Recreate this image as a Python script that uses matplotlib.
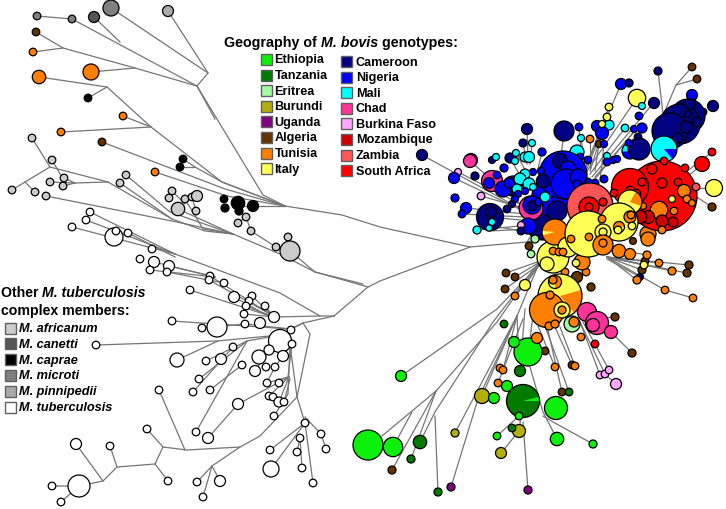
#!/usr/bin/env python3

import matplotlib
matplotlib.use('Agg')
import matplotlib.pyplot as plt
from matplotlib.patches import Circle, Wedge, Rectangle

plt.rcParams['font.family'] = ['Liberation Sans', 'DejaVu Sans']

COLORS = {
    'Ethiopia': '#0cf00c', 'Tanzania': '#007a00', 'Eritrea': '#a4fba4',
    'Burundi': '#b5ad0a', 'Uganda': '#800080', 'Algeria': '#663300',
    'Tunisia': '#ff8000', 'Italy': '#ffff55', 'Cameroon': '#000080',
    'Nigeria': '#0000ff', 'Mali': '#00ffff', 'Chad': '#ff3399',
    'Burkina Faso': '#ffa6ff', 'Mozambique': '#cc0000', 'Zambia': '#ff5555',
    'South Africa': '#ff0000', 'M. africanum': '#cccccc', 'M. canetti': '#555555',
    'M. caprae': '#000000', 'M. microti': '#808080', 'M. pinnipedii': '#aaaaaa',
    'M. tuberculosis': '#ffffff',
}

geo_left = ['Ethiopia', 'Tanzania', 'Eritrea', 'Burundi', 'Uganda', 'Algeria', 'Tunisia', 'Italy']
geo_right = ['Cameroon', 'Nigeria', 'Mali', 'Chad', 'Burkina Faso', 'Mozambique', 'Zambia', 'South Africa']
other_members = ['M. africanum', 'M. canetti', 'M. caprae', 'M. microti', 'M. pinnipedii', 'M. tuberculosis']

# branches, picture coordinates
branches_top = [
    [(285, 207), (263, 196), (197, 87), (135, 69), (63, 49), (36, 33)],
    [(63, 49), (33, 53)], [(135, 69), (91, 73)],
    [(215, 120), (197, 87), (72, 20), (37, 17)], [(120, 43), (94, 18)],
    [(197, 87), (208, 74), (111, 9)], [(208, 74), (168, 12)],
    [(285, 207), (222, 183), (151, 128), (107, 88), (39, 78)], [(107, 88), (88, 99)],
    [(151, 128), (123, 117)], [(151, 128), (61, 133)],
    [(285, 207), (240, 190), (222, 183), (195, 168), (183, 160)], [(195, 168), (180, 168)],
    [(285, 207), (225, 190), (102, 143)], [(285, 207), (227, 197), (155, 173)],
    [(285, 207), (239, 207)],
    [(285, 207), (342, 216), (380, 228), (470, 248), (527, 243), (540, 240)],
    [(470, 248), (380, 282), (368, 288), (334, 317)],
    [(368, 288), (340, 280), (315, 273), (290, 252)], [(315, 273), (363, 285)],
    [(315, 273), (280, 255), (233, 235), (205, 232), (172, 220), (108, 183), (50, 168), (32, 139)],
    [(50, 168), (25, 183), (12, 191)], [(25, 183), (35, 193)], [(52, 161), (63, 180)],
    [(108, 183), (75, 184), (63, 187)], [(75, 184), (64, 179)], [(75, 184), (50, 183)],
    [(233, 235), (172, 222), (46, 197)], [(233, 235), (170, 213), (126, 176)],
    [(172, 220), (120, 184)], [(233, 235), (178, 210)], [(233, 235), (203, 230), (185, 200)],
    [(172, 192), (185, 205)], [(196, 212), (192, 198)], [(246, 218), (251, 232), (276, 248)],
    [(238, 224), (246, 218)], [(288, 238), (290, 252)],
]
branches_white = [
    [(334, 317), (320, 317), (280, 294), (175, 255), (90, 213)],
    [(175, 255), (86, 221)], [(175, 255), (72, 228)], [(175, 258), (128, 234)],
    [(215, 278), (154, 263)], [(215, 278), (150, 271)], [(215, 278), (169, 267)],
    [(224, 284), (167, 273)], [(270, 315), (210, 277)], [(270, 315), (209, 281)],
    [(270, 317), (190, 291)], [(270, 318), (234, 298)], [(274, 318), (252, 297)],
    [(274, 318), (246, 307)], [(274, 318), (244, 315)], [(274, 318), (265, 307)],
    [(320, 317), (274, 318)], [(334, 317), (303, 324)],
    [(303, 324), (310, 335), (297, 398), (260, 437), (240, 448), (187, 451), (163, 448),
     (155, 465), (117, 468), (103, 482), (79, 487), (52, 487)],
    [(79, 487), (61, 503)], [(103, 482), (76, 445)], [(117, 468), (110, 447)],
    [(155, 465), (168, 482)], [(163, 448), (147, 430)], [(185, 451), (159, 391)],
    [(240, 448), (212, 467), (197, 483)], [(212, 467), (203, 498)], [(212, 467), (220, 482)],
    [(297, 398), (305, 424)], [(305, 418), (321, 435), (326, 450)], [(305, 424), (270, 451)],
    [(305, 424), (271, 470)], [(305, 424), (313, 484)], [(300, 439), (302, 469)],
    [(300, 439), (297, 453)],
    [(303, 324), (290, 330), (172, 322)], [(290, 330), (245, 325), (202, 329)],
    [(303, 324), (280, 336), (217, 342), (96, 346)], [(218, 342), (177, 361)],
    [(280, 336), (247, 342), (206, 362)], [(247, 342), (199, 380)], [(247, 342), (196, 433)],
    [(233, 348), (193, 393)], [(242, 366), (210, 391)],
    [(289, 378), (238, 405), (208, 439)], [(290, 345), (288, 395), (274, 417)],
    [(292, 345), (288, 378), (267, 384)], [(289, 378), (279, 403)], [(290, 380), (284, 403)],
    [(289, 378), (269, 397)], [(280, 342), (269, 351), (255, 372)], [(283, 357), (275, 368), (266, 385)],
    [(297, 398), (290, 345)],
]
branches_right = [
    # left fan of the Nigeria group
    [(530, 215), (422, 156)], [(530, 215), (454, 179)], [(520, 205), (470, 162)],
    [(520, 205), (458, 173)], [(520, 208), (481, 197)], [(525, 215), (466, 209)],
    [(525, 218), (462, 215)], [(530, 222), (490, 218)], [(530, 226), (477, 231)],
    [(530, 230), (490, 232)], [(530, 234), (490, 226)], [(527, 243), (540, 222)],
    [(527, 130), (528, 160)], [(523, 144), (527, 165)], [(532, 144), (530, 165)],
    [(542, 153), (538, 170)], [(516, 154), (530, 180)], [(510, 159), (525, 185)],
    [(564, 132), (561, 158)],
    # top fan
    [(585, 175), (637, 99)], [(585, 170), (621, 85)], [(585, 170), (609, 108)],
    [(585, 175), (607, 118)], [(590, 175), (625, 129)], [(582, 165), (579, 128)],
    [(585, 168), (581, 139)], [(590, 170), (590, 140)], [(595, 172), (599, 145)],
    [(592, 178), (650, 108)], [(595, 180), (640, 125)], [(595, 178), (635, 132)],
    [(600, 182), (604, 145)], [(590, 172), (602, 134)],
    [(663, 115), (658, 72)], [(665, 112), (676, 86), (692, 68)], [(676, 86), (697, 80)],
    # right side
    [(690, 170), (712, 153)], [(685, 180), (702, 165)], [(690, 190), (714, 189)],
    [(690, 190), (696, 188)], [(692, 195), (712, 208)],
    # lower right fan
    [(607, 258), (689, 266)], [(607, 258), (687, 274)], [(607, 258), (672, 272)],
    [(607, 258), (659, 264)], [(607, 258), (665, 291), (693, 299)], [(607, 258), (637, 281)],
    [(607, 260), (640, 278)], [(607, 258), (642, 271)], [(607, 258), (644, 266)],
    [(612, 250), (647, 256)],
    # bottom fan
    [(540, 265), (520, 290), (497, 323), (436, 392), (382, 437)],
    [(412, 413), (393, 448)], [(540, 262), (493, 323), (435, 413), (420, 443)],
    [(435, 417), (438, 493)], [(436, 392), (392, 471)], [(436, 392), (411, 460)],
    [(540, 265), (497, 310), (401, 377)], [(540, 262), (517, 317), (455, 434)],
    [(517, 317), (478, 400), (451, 488)], [(517, 317), (518, 340)], [(517, 317), (482, 397)],
    [(517, 317), (503, 371)], [(523, 320), (498, 384)], [(525, 310), (520, 372)],
    [(523, 423), (528, 491)], [(530, 368), (543, 413), (557, 440)],
    [(543, 417), (553, 423), (593, 445)], [(519, 432), (501, 454)], [(519, 417), (497, 437)],
    [(523, 402), (519, 432)], [(535, 300), (530, 340)],
    [(547, 327), (562, 393)], [(545, 327), (569, 393)], [(555, 328), (572, 366)],
    [(560, 328), (575, 367)], [(538, 327), (555, 368)],
    [(580, 323), (600, 376)], [(580, 323), (605, 375)], [(583, 323), (609, 371)],
    [(605, 375), (616, 385)], [(611, 333), (632, 354)], [(595, 320), (615, 318)],
    [(540, 262), (506, 274)], [(545, 260), (515, 278)], [(540, 265), (505, 290)],
    [(540, 265), (525, 286), (515, 297)],
]

# x, y, radius per group, drawn at the back of the picture
nodes_other = {
    'M. microti': [(37, 17, 3.8), (72, 20, 3.8), (111, 9, 8)],
    'M. canetti': [(94, 18, 5.5)],
    'M. pinnipedii': [(168, 12, 5.5)],
    'M. caprae': [(88, 99, 3.8), (183, 160, 3.8), (180, 168, 3.8), (224, 200, 3.8),
                  (225, 209, 4), (238, 204, 6.7), (239, 212, 4), (253, 207, 5.5)],
    'M. africanum': [(32, 139, 3.8), (52, 161, 3.8), (12, 191, 3.8), (35, 193, 3.8),
                     (46, 197, 3.8), (50, 183, 3.8), (64, 179, 3.8), (63, 187, 3.8),
                     (126, 176, 3.8), (120, 184, 3.8), (172, 192, 3.8), (169, 199, 3.8),
                     (185, 200, 3.8), (192, 198, 3.8), (197, 197, 5.5), (178, 210, 6.7),
                     (196, 212, 3.8), (246, 218, 3.8), (238, 224, 3.8), (251, 232, 3.8),
                     (276, 248, 3.8), (288, 238, 3.8), (290, 252, 10)],
    'M. tuberculosis': [(90, 213, 3.8), (86, 221, 3.8), (72, 228, 3.8), (114, 238, 9),
                        (116, 232, 3.8), (128, 234, 3.8), (152, 250, 3.8), (140, 260, 3.8),
                        (154, 263, 5.5), (150, 271, 3.8), (169, 267, 5.5), (167, 273, 3.8),
                        (210, 277, 3.8), (209, 281, 3.8), (224, 284, 3.8), (190, 291, 3.8),
                        (234, 298, 5.5), (252, 297, 3.8), (249, 302, 3.8), (265, 307, 3.8),
                        (246, 307, 3.8), (244, 315, 3.8), (274, 318, 5.5), (172, 322, 3.8),
                        (202, 329, 3.8), (217, 328, 10), (245, 325, 3.8), (260, 324, 5.5),
                        (280, 342, 11.5), (291, 331, 3.8), (292, 345, 3.8), (96, 346, 3.8),
                        (177, 361, 7), (233, 348, 3.8), (221, 360, 5.5), (206, 362, 3.8),
                        (259, 358, 7), (269, 351, 5), (283, 357, 5.5), (242, 366, 3.8),
                        (266, 368, 3.8), (275, 368, 3.8), (255, 372, 5.5), (199, 380, 3.8),
                        (267, 384, 3.8), (279, 384, 3.8), (193, 393, 3.8), (210, 391, 3.8),
                        (159, 391, 3.8), (269, 397, 3.8), (273, 398, 3.8), (279, 403, 5),
                        (284, 403, 3.8), (238, 405, 5.5), (274, 417, 3.8), (196, 433, 3.8),
                        (208, 439, 5.5), (147, 430, 3.8), (76, 445, 5.5), (110, 447, 3.8),
                        (270, 451, 3.8), (305, 424, 3.8), (300, 439, 3.8), (297, 453, 3.8),
                        (321, 435, 3.8), (326, 450, 3.8), (271, 470, 8), (302, 469, 3.8),
                        (313, 484, 3.8), (79, 487, 11), (52, 487, 3.8), (61, 503, 3.8),
                        (168, 482, 3.8), (197, 483, 3.8), (220, 482, 5.5), (203, 498, 3.8)],
    'Algeria': [(36, 33, 3.8), (102, 143, 3.8)],
    'Tunisia': [(33, 53, 3.8), (39, 78, 6.7), (91, 73, 8), (123, 117, 3.8), (61, 133, 3.8),
                (155, 173, 3.8)],
}

# pies: x, y, radius, base group, slice group, start and end angle
pie_mali_big = (664, 150, 13, 'Mali', 'Nigeria', 0, 50)
pie_mali_small = (630, 152, 8, 'Nigeria', 'Mali', 175, 300)
pie_flag = (555, 233, 13, 'Tunisia', 'Italy', 165, 185)
pie_italy_top = (630, 203, 12, 'Italy', 'Tunisia', 300, 20)
pie_italy_inner = (619, 228, 5.5, 'Italy', 'Tunisia', 180, 360)
pie_italy_main = (560, 297, 22, 'Italy', 'Tunisia', 344, 50)
pie_italy_small = (555, 283, 6.5, 'Italy', 'Tunisia', 270, 90)
pie_tanzania = (523, 402, 16.5, 'Tanzania', 'Ethiopia', 345, 360)

# cluster nodes in drawing order, back to front
cluster_blue = [
    (458, 173, 3.5, 'Burkina Faso'), (422, 156, 5.5, 'Cameroon'), (454, 179, 5.5, 'Nigeria'),
    (471, 161, 6.5, 'Chad'), (470, 162, 6.5, 'Chad'), (475, 177, 4, 'Cameroon'),
    (481, 197, 3.8, 'Burkina Faso'), (455, 199, 4, 'Nigeria'), (466, 209, 5.5, 'Nigeria'),
    (462, 215, 3.8, 'Nigeria'), (490, 218, 13.5, 'Cameroon'), (491, 213, 5.5, 'Cameroon'),
    (492, 223, 3.5, 'Mali'), (489, 229, 3.2, 'Mali'), (477, 231, 4, 'Mali'),
    (492, 182, 10.5, 'Chad'), (489, 184, 5.5, 'Nigeria'), (497, 176, 3.8, 'Nigeria'),
    (504, 169, 4, 'Nigeria'), (492, 161, 3.5, 'Cameroon'), (496, 158, 3.5, 'Mali'),
    (510, 159, 5, 'Cameroon'), (516, 154, 3.5, 'Mali'), (515, 162, 3.5, 'Mali'),
    (527, 130, 5.5, 'Cameroon'), (523, 144, 4, 'Cameroon'), (532, 144, 3.5, 'Mali'),
    (542, 153, 4, 'Nigeria'), (525, 158, 5, 'Mali'), (529, 158, 5.5, 'Mali'),
    (564, 132, 10, 'Cameroon'), (579, 128, 3.8, 'Nigeria'), (581, 139, 3.5, 'Mali'),
    (590, 140, 3.8, 'Tunisia'), (599, 145, 3.5, 'Algeria'), (597, 127, 5.5, 'Nigeria'),
    (609, 126, 5, 'Mali'), (602, 134, 6.5, 'Nigeria'), (602, 125, 3.5, 'Italy'),
    (607, 118, 3.8, 'Italy'), (609, 108, 3.8, 'Italy'), (604, 145, 3.5, 'Nigeria'),
    (637, 99, 8.7, 'Italy'), (621, 85, 5.5, 'Nigeria'), (629, 84, 4, 'Cameroon'),
    (658, 72, 4, 'Cameroon'), (692, 68, 3.8, 'Algeria'), (697, 80, 3.8, 'Algeria'),
    (713, 107, 5.5, 'Cameroon'), (703, 113, 3.8, 'Cameroon'), (642, 107, 3.5, 'Mali'),
    (654, 104, 5.5, 'Cameroon'), (625, 129, 3.8, 'Mali'), (639, 117, 3.8, 'Nigeria'),
    (692, 96, 5.5, 'Nigeria'), (688, 117, 17, 'Cameroon'), (680, 125, 20, 'Cameroon'),
    (670, 132, 18, 'Cameroon'),
    (678, 139, 5, 'Cameroon'), (686, 128, 6, 'Cameroon'), (690, 105, 5, 'Cameroon'),
    (697, 123, 4.7, 'Cameroon'), (688, 115, 3.5, 'Cameroon'),
    pie_mali_big,
    (642, 129, 5, 'Nigeria'), (634, 130, 3.5, 'Nigeria'), (638, 138, 3.8, 'Cameroon'),
    pie_mali_small, (639, 150, 11, 'Cameroon'),
    (629, 144, 3.5, 'Nigeria'), (607, 157, 3.5, 'Mali'), (607, 163, 3.8, 'Nigeria'),
    (613, 161, 3.5, 'Nigeria'), (617, 160, 3.5, 'Nigeria'),
    (577, 153, 7, 'Mali'), (588, 161, 3.8, 'Nigeria'), (580, 158, 3.8, 'Nigeria'),
    (604, 180, 3.8, 'Nigeria'), (588, 183, 3.8, 'Nigeria'), (595, 184, 3.8, 'Nigeria'),
    (513, 187, 10, 'Cameroon'), (543, 223, 18, 'Cameroon'), (552, 197, 20, 'Nigeria'),
    (563, 176, 24, 'Nigeria'),
    (560, 162, 7.5, 'Cameroon'), (568, 170, 8, 'Nigeria'), (566, 185, 15, 'Nigeria'),
    (578, 178, 8, 'Nigeria'), (557, 212, 10, 'Cameroon'), (543, 182, 6.7, 'Cameroon'),
    (525, 175, 5, 'Mali'), (520, 180, 6, 'Mali'), (533, 173, 3.5, 'Nigeria'),
    (541, 172, 3.5, 'Nigeria'), (529, 185, 6, 'Mali'), (533, 188, 3.5, 'Mali'),
    (517, 190, 5, 'Mali'), (503, 190, 8, 'Nigeria'), (509, 184, 5, 'Nigeria'),
    (525, 192, 3.5, 'Nigeria'), (518, 195, 3.5, 'Nigeria'), (515, 200, 3.5, 'Nigeria'),
    (512, 205, 3.5, 'Cameroon'), (507, 210, 3.8, 'Cameroon'), (545, 198, 5, 'Mali'),
    (531, 209, 12, 'Chad'), (532, 206, 9, 'Nigeria'), (532, 207, 5, 'Cameroon'),
    (538, 203, 3.5, 'Nigeria'), (528, 227, 8, 'Nigeria'), (521, 226, 3.5, 'Burkina Faso'),
    (521, 232, 3.8, 'Cameroon'), (579, 197, 5, 'Nigeria'), (577, 185, 4, 'Nigeria'),
    (590, 207, 23, 'Zambia'), (589, 208, 10, 'South Africa'), (589, 208, 4, 'South Africa'),
    (603, 203, 4, 'South Africa'),
]
cluster_red = [
    (648, 235, 8, 'Tunisia'), (662, 197, 35, 'South Africa'), (630, 188, 18.5, 'South Africa'),
    (652, 170, 5, 'South Africa'), (662, 184, 5, 'South Africa'), (678, 183, 3.8, 'South Africa'),
    (664, 162, 3.8, 'South Africa'), (685, 169, 3.8, 'South Africa'), (702, 165, 7.5, 'South Africa'),
    (712, 153, 3.8, 'South Africa'), (696, 188, 3.8, 'Zambia'), (714, 189, 8.5, 'Italy'),
    (712, 208, 4, 'Algeria'), (684, 192, 6.5, 'Tunisia'), (672, 200, 3.4, 'Italy'),
    (659, 211, 8.7, 'Tunisia'), (674, 212, 3.8, 'Tunisia'), (687, 200, 3.8, 'Tunisia'),
    (692, 204, 3.4, 'Tunisia'), (673, 223, 5, 'Mozambique'), (662, 222, 6, 'Mozambique'),
    (662, 231, 3.8, 'Tunisia'), (648, 218, 6.5, 'Mozambique'), (640, 218, 6.5, 'Mozambique'),
    (642, 183, 4, 'South Africa'), (630, 192, 4.7, 'South Africa'), (636, 195, 4.7, 'South Africa'),
    (614, 194, 3.8, 'South Africa'), (643, 207, 3.4, 'Tunisia'), (633, 242, 3.4, 'Algeria'),
    (619, 252, 6.7, 'Tunisia'), (630, 255, 5.5, 'Tunisia'), (648, 240, 7, 'Tunisia'),
    (689, 266, 4, 'Algeria'), (687, 274, 4, 'Algeria'), (672, 272, 4, 'Tunisia'),
    (659, 264, 3.8, 'Tunisia'), (665, 291, 3.8, 'Tunisia'), (693, 299, 3.8, 'Tunisia'),
    (640, 278, 3.4, 'Cameroon'), (637, 281, 4, 'Tunisia'), (642, 271, 4, 'Algeria'),
    (645, 262, 3.8, 'Algeria'), (644, 266, 3.8, 'Italy'), (647, 256, 4, 'Tunisia'),
]
cluster_south = [
    (529, 247, 3.8, 'Algeria'), (531, 255, 3.8, 'Eritrea'), (535, 240, 4, 'Eritrea'),
    (506, 274, 3.8, 'Algeria'), (515, 278, 3.8, 'Algeria'), (505, 290, 3.8, 'Algeria'),
    (525, 286, 5.5, 'Italy'), (515, 297, 3.8, 'Tunisia'), (577, 278, 5.5, 'Algeria'),
    (591, 288, 4, 'Algeria'), (572, 325, 8, 'Eritrea'), (565, 273, 3.8, 'Tunisia'),
    pie_italy_main, (547, 311, 17.5, 'Tunisia'), pie_italy_small, (553, 281, 4, 'Tunisia'),
    (549, 327, 4, 'Tunisia'), (555, 325, 4, 'Tunisia'), (550, 296, 4, 'Tunisia'),
    (562, 311, 8, 'Italy'), (562, 311, 4, 'Tunisia'), (574, 323, 5, 'Tunisia'),
    (553, 258, 16, 'Italy'), (586, 273, 3.8, 'Tunisia'), (582, 263, 8, 'Tunisia'),
    (576, 264, 3.8, 'Italy'), (547, 265, 7, 'Italy'),
    pie_flag, (568, 248, 10, 'Italy'), (553, 252, 3.8, 'Tunisia'), (559, 253, 3.8, 'Tunisia'),
    (563, 253, 3.8, 'Tunisia'), pie_italy_top, (588, 235, 23, 'Italy'), (571, 240, 3.8, 'Tunisia'),
    (589, 238, 3.8, 'Tunisia'), (619, 223, 19, 'Italy'), (603, 233, 8, 'Italy'), (603, 233, 4, 'Italy'),
    (602, 220, 3.8, 'Tunisia'), (630, 218, 6, 'Tunisia'), (631, 216, 3.8, 'Tunisia'),
    pie_italy_inner, (632, 227, 3.8, 'Italy'), (618, 231, 3.8, 'Italy'),
    (603, 246, 10, 'Tunisia'), (603, 244, 4, 'Tunisia'),
    (615, 318, 4, 'Algeria'), (587, 313, 9.5, 'Chad'), (597, 324, 11.5, 'Chad'), (593, 326, 6.5, 'Chad'),
    (611, 333, 6.5, 'Chad'), (632, 354, 4, 'Algeria'), (581, 338, 3.8, 'Tunisia'),
    (595, 345, 3.8, 'South Africa'), (600, 376, 3.8, 'Burkina Faso'), (605, 375, 3.8, 'Burkina Faso'),
    (609, 371, 3.8, 'Burkina Faso'), (616, 385, 5.5, 'Burkina Faso'), (555, 368, 3.8, 'Tunisia'),
    (572, 366, 3.8, 'Algeria'), (575, 367, 3.8, 'Tunisia'), (562, 393, 3.8, 'Algeria'),
    (569, 393, 3.8, 'Tanzania'), (556, 409, 11.5, 'Ethiopia'), (557, 440, 6.7, 'Ethiopia'),
    (593, 445, 4, 'Ethiopia'), (545, 352, 3.8, 'Algeria'), (528, 353, 14, 'Ethiopia'),
    (514, 343, 5.5, 'Ethiopia'), (537, 339, 5.5, 'Tunisia'), (504, 325, 3.8, 'Tanzania'),
    (520, 372, 5.5, 'Tanzania'), (500, 369, 3.8, 'Tunisia'), (503, 371, 3.8, 'Tunisia'),
    (498, 384, 3.8, 'Tunisia'), (507, 387, 5.5, 'Ethiopia'), (482, 397, 7.5, 'Burundi'),
    (494, 399, 5.5, 'Ethiopia'), pie_tanzania, (519, 417, 3.8, 'Ethiopia'),
    (519, 432, 6.5, 'Burundi'), (512, 429, 3.8, 'Tanzania'),
    (497, 437, 3.8, 'Ethiopia'), (501, 454, 5.5, 'Burundi'), (455, 434, 4, 'Burundi'),
    (528, 491, 4, 'Uganda'), (451, 488, 4, 'Uganda'), (438, 493, 4, 'Tanzania'),
    (368, 446, 15, 'Ethiopia'), (393, 448, 9.7, 'Ethiopia'), (420, 443, 6.7, 'Tanzania'),
    (411, 460, 4, 'Tanzania'), (392, 471, 4, 'Algeria'), (401, 377, 5.5, 'Ethiopia'),
]

# one unit on the axes is one pixel of the picture
fig = plt.figure(figsize=(7.26, 5.10), dpi=100)
ax = fig.add_axes([0, 0, 1, 1])
ax.set_xlim(0, 726)
ax.set_ylim(510, 0)
ax.axis('off')

z = [10]


def node(x, y, r, name):
    z[0] += 1
    ax.add_patch(Circle((x, y), r, fc=COLORS[name], ec='black', lw=0.9, zorder=z[0]))


def pie(x, y, r, base, part, a0, a1):
    z[0] += 1
    ax.add_patch(Circle((x, y), r, fc=COLORS[base], ec='none', zorder=z[0]))
    ax.add_patch(Wedge((x, y), r, a0, a1, fc=COLORS[part], ec='none', zorder=z[0]))
    ax.add_patch(Circle((x, y), r, fc='none', ec='black', lw=0.9, zorder=z[0]))


def text_run(x, y, parts, size):
    # bold and bold italic pieces next to each other on one line
    rend = fig.canvas.get_renderer()
    for s, style in parts:
        t = ax.text(x, y, s, fontsize=size, fontweight='bold', fontstyle=style,
                    va='center', ha='left', color='black', zorder=2000)
        x += t.get_window_extent(rend).width


for group in (branches_top, branches_white, branches_right):
    for b in group:
        ax.plot([p[0] for p in b], [p[1] for p in b], color='#757575', lw=0.9,
                solid_joinstyle='round', zorder=2)

for name, pts in nodes_other.items():
    for x, y, r in pts:
        node(x, y, r, name)

for cluster in (cluster_blue, cluster_red, cluster_south):
    for n in cluster:
        if len(n) == 4:
            node(*n)
        else:
            pie(*n)

# legends
text_run(224, 43, [('Geography of ', 'normal'), ('M. bovis', 'italic'), (' genotypes:', 'normal')], 10.3)
for i, name in enumerate(geo_left):
    y = 60.5 + i * 15.6
    ax.add_patch(Rectangle((260.5, y - 5.5), 11, 11, fc=COLORS[name], ec='#606060', lw=1.0, zorder=1900))
    ax.text(274.5, y, name, fontsize=9.1, fontweight='bold', va='center', zorder=2000)
for i, name in enumerate(geo_right):
    y = 62.5 + i * 15.6
    ax.add_patch(Rectangle((341, y - 5.5), 11, 11, fc=COLORS[name], ec='#606060', lw=1.0, zorder=1900))
    ax.text(356, y, name, fontsize=9.1, fontweight='bold', va='center', zorder=2000)

text_run(1, 293, [('Other ', 'normal'), ('M. tuberculosis', 'italic')], 10.2)
text_run(1, 311, [('complex members:', 'normal')], 10.2)
for i, name in enumerate(other_members):
    y = 329 + i * 15.8
    ax.add_patch(Rectangle((4.5, y - 5.5), 11, 11, fc=COLORS[name], ec='#606060', lw=1.0, zorder=1900))
    ax.text(19, y, name, fontsize=9.2, fontweight='bold', fontstyle='italic', va='center', zorder=2000)

fig.savefig('out.png', dpi=100)
